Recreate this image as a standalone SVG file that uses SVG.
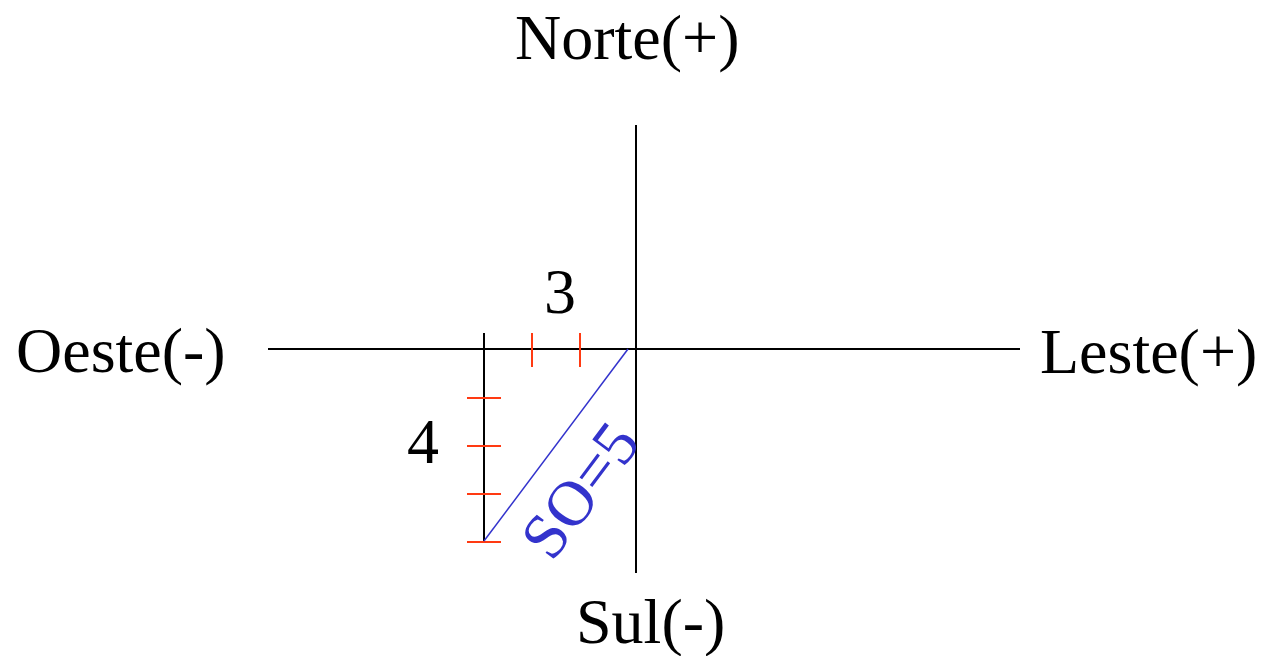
<svg xmlns="http://www.w3.org/2000/svg" width="1261" height="656" viewBox="0 0 1261 656">
<style>
.lbl{font-family:"Liberation Serif","Times New Roman",serif;font-size:64px;fill:#000}
.axis{stroke:#000;stroke-width:2;fill:none}
.tick{stroke:#ff3a12;stroke-width:2;fill:none}
.hyp{stroke:#3333cc;stroke-width:1.5;fill:none}
</style>
<rect width="1261" height="656" fill="#fff"/>
<g id="connectors">
<line class="axis" x1="268" y1="349" x2="1020" y2="349"/>
<line class="axis" x1="636" y1="125" x2="636" y2="573"/>
<line class="axis" x1="484" y1="333" x2="484" y2="541"/>
<line class="tick" x1="532" y1="333" x2="532" y2="367"/>
<line class="tick" x1="580" y1="333" x2="580" y2="367"/>
<line class="tick" x1="467" y1="398" x2="501" y2="398"/>
<line class="tick" x1="467" y1="446" x2="501" y2="446"/>
<line class="tick" x1="467" y1="494" x2="501" y2="494"/>
<line class="tick" x1="467" y1="542" x2="501" y2="542"/>
<line class="hyp" x1="484" y1="541" x2="628" y2="349"/>
</g>
<g id="norte"><text class="lbl" x="515" y="59">Norte(+)</text></g>
<g id="oeste"><text class="lbl" x="16" y="372">Oeste(-)</text></g>
<g id="leste"><text class="lbl" x="1040" y="373">Leste(+)</text></g>
<g id="sul"><text class="lbl" x="576" y="643">Sul(-)</text></g>
<g id="tres"><text class="lbl" x="560" y="313" text-anchor="middle">3</text></g>
<g id="quatro"><text class="lbl" x="423" y="463" text-anchor="middle">4</text></g>
<g id="so5"><text class="lbl" x="597" y="503" text-anchor="middle" fill="#3333cc" style="fill:#3333cc" transform="rotate(-53.13 597 503)">SO=5</text></g>
</svg>
